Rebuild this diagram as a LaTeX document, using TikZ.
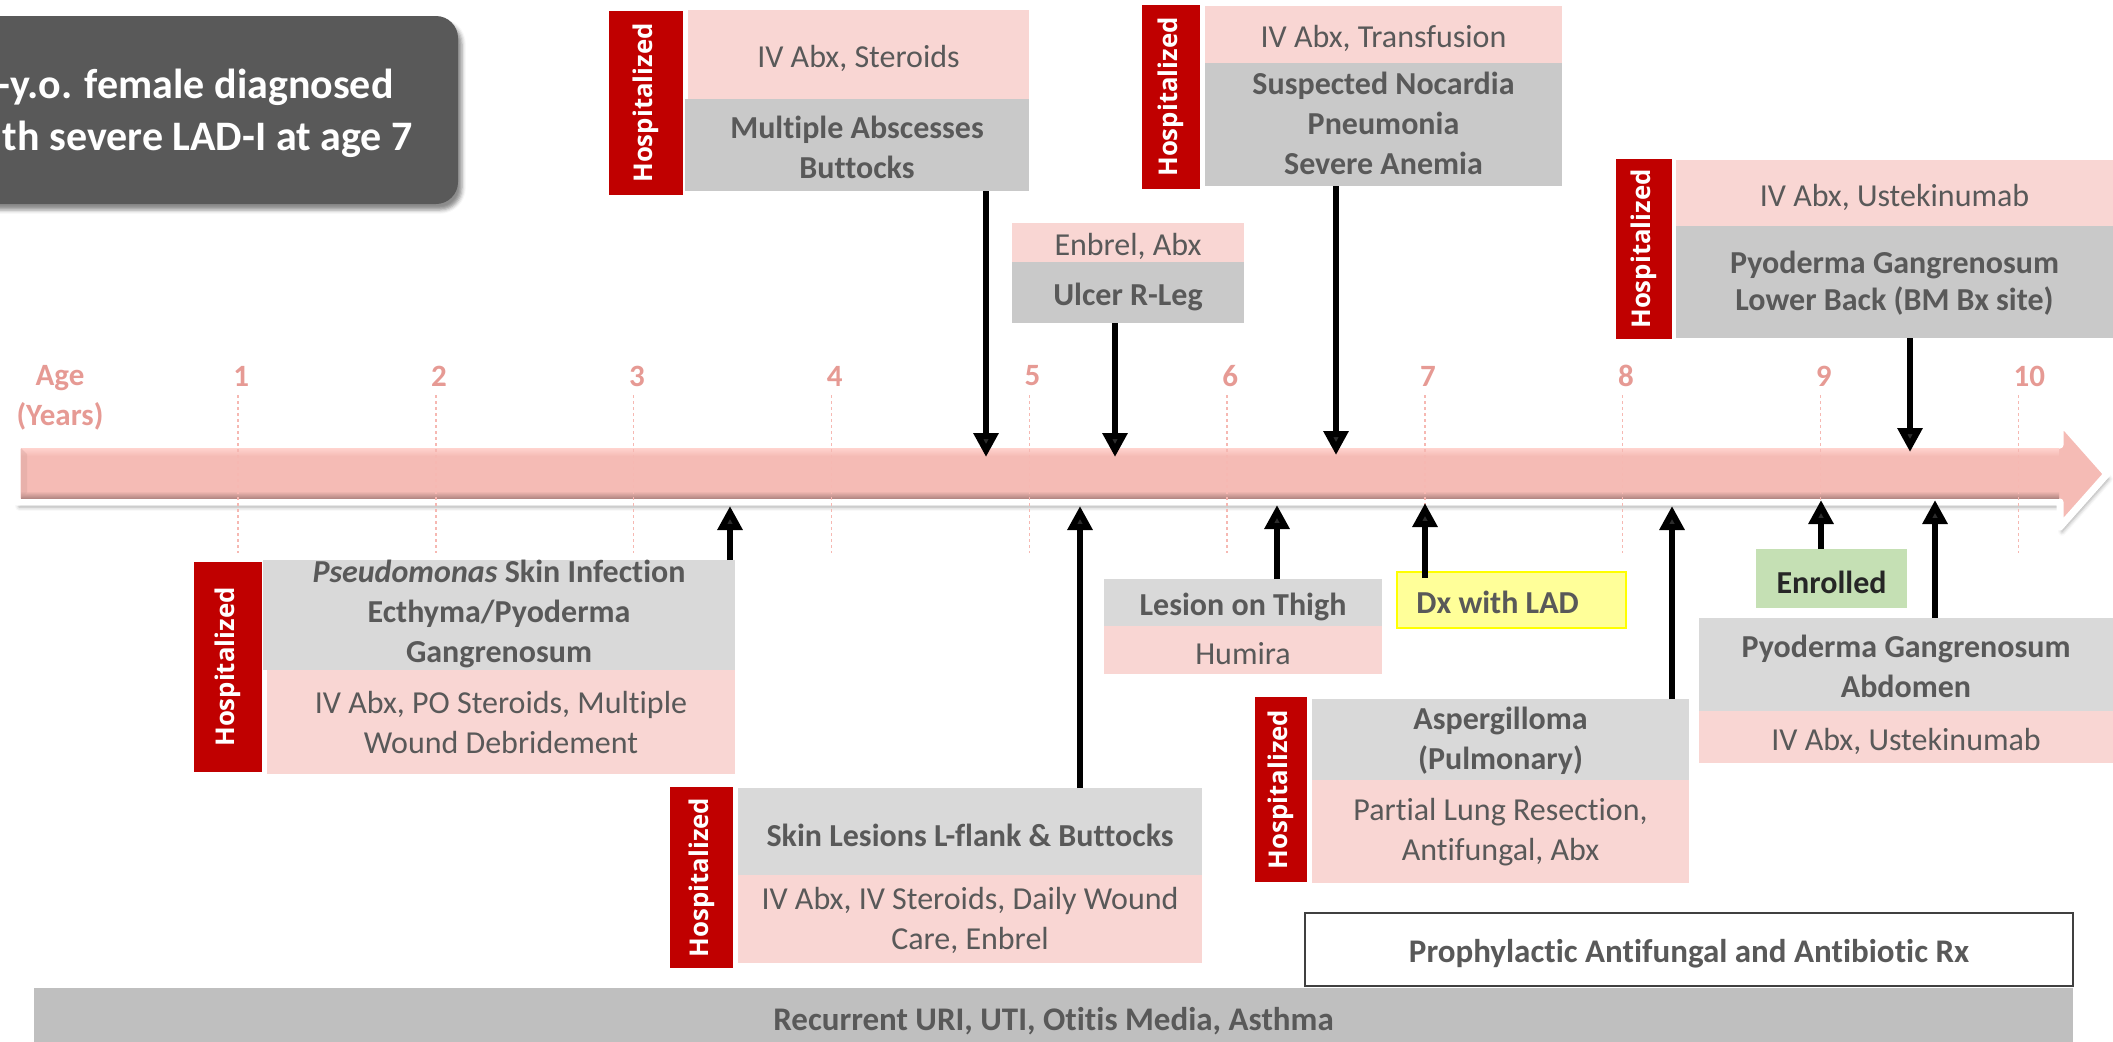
\documentclass[tikz,border=0pt]{standalone}
\usepackage{fontspec}
\setmainfont[Ligatures=NoCommon]{Carlito}
\newfontfamily\hospfont{Open Sans}
\usetikzlibrary{arrows.meta,shadows.blur}
\definecolor{txtgray}{HTML}{595959}
\definecolor{pinkfill}{HTML}{F9D6D3}
\definecolor{graytop}{HTML}{C9C9C9}
\definecolor{graybot}{HTML}{D9D9D9}
\definecolor{hospred}{HTML}{C00000}
\definecolor{agecol}{HTML}{E69A94}
\definecolor{tickcol}{HTML}{F6B8B2}
\definecolor{introfill}{HTML}{595959}
\definecolor{recgray}{HTML}{BFBFBF}
\definecolor{enrgreen}{HTML}{C5E0B4}
\definecolor{dxyellow}{HTML}{FFFF99}
\definecolor{dxborder}{HTML}{FFFF00}
\definecolor{barpink}{HTML}{F5BBB5}
\definecolor{barlight}{HTML}{FFD3CE}
\definecolor{bardark}{HTML}{B48884}
\definecolor{prophborder}{HTML}{404040}
% box from corner (x1,y1) to (x2,y2) in pixel units (1px = 0.5pt); optional text shift
\newcommand\evbox[8][-2pt]{%
  \pgfmathsetmacro\evcx{(#4+#6)/2}%
  \pgfmathsetmacro\evcy{(#5+#7)/2}%
  \pgfmathsetmacro\evw{(#6-#4)/2}%
  \pgfmathsetmacro\evh{(#7-#5)/2}%
  \node[#2,minimum width=\evw pt,minimum height=\evh pt] (#3) at (\evcx,\evcy) {};
  \node[#2,fill=none,draw=none,minimum width=0pt,minimum height=0pt] (#3t) at ([yshift=#1]#3.center) {#8};}
\begin{document}
\begin{tikzpicture}[x=0.5pt,y=-0.5pt,
  box/.style={inner sep=0pt,outer sep=0pt,align=center,text=txtgray,font=\fontsize{16}{20}\selectfont},
  pinkbox/.style={box,fill=pinkfill},
  graytopbox/.style={box,fill=graytop,font=\bfseries\fontsize{16}{20}\selectfont},
  graybotbox/.style={box,fill=graybot,font=\bfseries\fontsize{16}{20}\selectfont},
  hosp/.style={fill=hospred,inner sep=0pt,outer sep=0pt,rotate=90,text=white,font=\hospfont\bfseries\fontsize{12.9}{14}\selectfont},
  evarrow/.style={line width=3pt,-{Triangle[length=12pt,width=12pt]}},
  agelabel/.style={text=agecol,font=\bfseries\fontsize{15.5}{20}\selectfont,inner sep=0pt,align=center},
  tickline/.style={draw=tickcol,line width=0.7pt,dash pattern=on 1.5pt off 1.5pt}
]
\useasboundingbox (0,0) rectangle (2113,1041);
\clip (0,0) rectangle (2113,1041);

% intro box
\path[fill=introfill,rounded corners=11pt,
  blur shadow={shadow xshift=2pt,shadow yshift=-3pt,shadow opacity=45}] (-40,16) rectangle (458,204);
\node[anchor=base east,text=white,inner sep=0pt,font=\bfseries\fontsize{21}{26}\selectfont] (introA) at (394,98) {-y.o. female diagnosed};
\node[anchor=base east,text=white,inner sep=0pt,font=\bfseries\fontsize{21}{26}\selectfont] (introB) at (413,150) {th severe LAD-I at age 7};

% timeline arrow
\path[fill=barpink,draw=white,line width=3.5pt,line join=round,
  blur shadow={shadow xshift=1pt,shadow yshift=-2.5pt,shadow opacity=35}]
  (17,445) -- (2060,445) -- (2060,421) -- (2107,474) -- (2060,527) -- (2060,502) -- (17,502) -- cycle;
\fill[top color=barlight,bottom color=barpink] (21,448) rectangle (2059,456);
\fill[top color=barpink,bottom color=bardark] (21,491) rectangle (2059,498);
\fill[barpink!85!black,opacity=0.35] (21,448) -- (27,454) -- (27,492) -- (21,498) -- cycle;

% ticks and labels
\node[agelabel] (agelbl) at (60,398) {Age\\(Years)};
\foreach \i in {1,...,10}{
  \pgfmathsetmacro\tx{238+197.8*(\i-1)}
  \draw[tickline] (\tx,395) -- (\tx,553);
  \node[agelabel,anchor=west] (num\i) at (\tx-5,376) {\i};
}

% ---- top events ----
\node[hosp,minimum width=92pt,minimum height=37pt] (hospA) at (646,103) {Hospitalized};
\evbox{pinkbox}{pinkA}{688}{10}{1029}{99}{IV Abx, Steroids}
\evbox[-1pt]{graytopbox}{grayA}{685}{99}{1029}{191}{Multiple Abscesses\\Buttocks}

\evbox{pinkbox}{pinkB}{1012}{223}{1244}{262}{Enbrel, Abx}
\evbox{graytopbox}{grayB}{1012}{262}{1244}{323}{Ulcer R-Leg}

\node[hosp,minimum width=92pt,minimum height=29pt] (hospC) at (1171,97) {Hospitalized};
\evbox{pinkbox}{pinkC}{1205}{6}{1562}{63}{IV Abx, Transfusion}
\evbox[0.5pt]{graytopbox}{grayC}{1205}{63}{1562}{186}{Suspected Nocardia\\Pneumonia\\Severe Anemia}

\node[hosp,minimum width=90pt,minimum height=28pt] (hospD) at (1644,249) {Hospitalized};
\evbox{pinkbox}{pinkD}{1676}{160}{2113}{226}{IV Abx, Ustekinumab}
\evbox[-0.5pt]{graytopbox,font=\bfseries\fontsize{16}{18.5}\selectfont}{grayD}{1676}{226}{2113}{338}{Pyoderma Gangrenosum\\Lower Back (BM Bx site)}

% ---- bottom events ----
\node[hosp,minimum width=105pt,minimum height=34pt] (hospE) at (228,667) {Hospitalized};
\evbox[0.5pt]{graybotbox}{grayE}{263}{560}{735}{670}{\textit{Pseudomonas} Skin Infection\\Ecthyma/Pyoderma\\Gangrenosum}
\evbox[0pt]{pinkbox}{pinkE}{267}{670}{735}{774}{IV Abx, PO Steroids, Multiple\\Wound Debridement}

\node[hosp,minimum width=90.5pt,minimum height=31.5pt] (hospF) at (701.5,877.5) {Hospitalized};
\evbox{graybotbox}{grayF}{738}{788}{1202}{875}{Skin Lesions L-flank \& Buttocks}
\evbox[-0.5pt]{pinkbox}{pinkF}{738}{875}{1202}{963}{IV Abx, IV Steroids, Daily Wound\\Care, Enbrel}

\evbox{graybotbox}{grayG}{1104}{579}{1382}{626}{Lesion on Thigh}
\evbox{pinkbox}{pinkG}{1104}{626}{1382}{674}{Humira}

\evbox{fill=dxyellow,draw=dxborder,line width=1pt,inner sep=0pt,outer sep=0pt}{dx}{1397}{572}{1626}{628}{}
\node[anchor=west,inner sep=0pt,text=txtgray,font=\bfseries\fontsize{16}{20}\selectfont] (dxtext) at (1416,602) {Dx with LAD};

\evbox{fill=enrgreen,inner sep=0pt,outer sep=0pt,text=black!85,font=\bfseries\fontsize{16}{20}\selectfont}{enr}{1756}{549}{1907}{608}{Enrolled}

\node[hosp,minimum width=92.5pt,minimum height=26pt] (hospH) at (1281,789.5) {Hospitalized};
\evbox[-0.5pt]{graybotbox}{grayH}{1312}{699}{1689}{780}{Aspergilloma\\(Pulmonary)}
\evbox[-0.5pt]{pinkbox}{pinkH}{1312}{780}{1689}{883}{Partial Lung Resection,\\Antifungal, Abx}

\evbox[-1pt]{graybotbox}{grayI}{1699}{618}{2113}{711}{Pyoderma Gangrenosum\\Abdomen}
\evbox{pinkbox}{pinkI}{1699}{711}{2113}{763}{IV Abx, Ustekinumab}

\evbox{fill=white,draw=prophborder,line width=1pt,inner sep=0pt,outer sep=0pt,text=txtgray,font=\bfseries\fontsize{16.5}{20}\selectfont}{proph}{1305}{913}{2073}{986}{Prophylactic Antifungal and Antibiotic Rx}

\evbox{fill=recgray,inner sep=0pt,outer sep=0pt,text=txtgray,font=\bfseries\fontsize{16.5}{20}\selectfont}{recur}{34}{988}{2073}{1046}{Recurrent URI, UTI, Otitis Media, Asthma}

% ---- connectors ----
\coordinate (tA) at (986,457);
\coordinate (tB) at (1115,457);
\coordinate (tC) at (1336,455);
\coordinate (tD) at (1910,452);
\coordinate (tE) at (730,506);
\coordinate (tF) at (1080,506);
\coordinate (tG) at (1277,505);
\coordinate (tDx) at (1425,503);
\coordinate (tH) at (1672,506);
\coordinate (tEn) at (1821,500);
\coordinate (tI) at (1935,500);

\draw[evarrow] (grayA.south -| tA) -- (tA);
\draw[evarrow] (grayB.south -| tB) -- (tB);
\draw[evarrow] (grayC.south -| tC) -- (tC);
\draw[evarrow] (grayD.south -| tD) -- (tD);
\draw[evarrow] (grayE.north -| tE) -- (tE);
\draw[evarrow] (grayF.north -| tF) -- (tF);
\draw[evarrow] (grayG.north -| tG) -- (tG);
\draw[evarrow] ([yshift=-3pt]dx.north -| tDx) -- (tDx);
\draw[evarrow] (grayH.north -| tH) -- (tH);
\draw[evarrow] (enr.north -| tEn) -- (tEn);
\draw[evarrow] (grayI.north -| tI) -- (tI);
\end{tikzpicture}
\end{document}
